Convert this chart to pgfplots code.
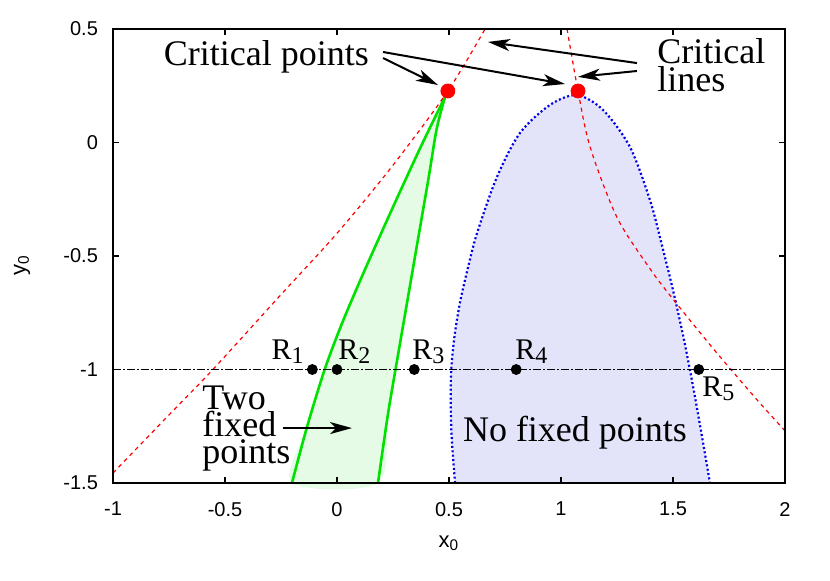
\documentclass[border=0pt]{standalone}
\usepackage{fontspec}
\setmainfont{Liberation Serif}
\setsansfont{Liberation Sans}
\usepackage{pgfplots}
\pgfplotsset{compat=1.18}
\usetikzlibrary{arrows.meta}
\definecolor{fillgreen}{RGB}{229,251,229}
\definecolor{fillblue}{RGB}{227,227,250}
\definecolor{linegreen}{RGB}{0,225,0}
\definecolor{lineblue}{RGB}{0,0,230}
\newcommand{\annfont}{\fontsize{18}{14}\selectfont}
\newcommand{\Rlab}[1]{\fontsize{15}{15}\selectfont R\raisebox{-2pt}{\fontsize{12}{12}\selectfont #1}}

\begin{document}
\begin{tikzpicture}
\begin{axis}[
  scale only axis, width=336pt, height=227pt,
  xmin=-1, xmax=2, ymin=-1.5, ymax=0.5,
  xtick={-1,-0.5,0,0.5,1,1.5,2},
  ytick={-1.5,-1,-0.5,0,0.5},
  tick align=inside, major tick length=3pt,
  axis line style={line width=0.6pt},
  tick style={line width=0.6pt,black},
  /pgf/number format/assume math mode=true,
  ticklabel style={font=\sffamily\fontsize{10}{12}\selectfont},
  xticklabel style={yshift=-6pt},
  yticklabel style={xshift=-4pt},
  axis on top,
  clip=false,
]
\coordinate (sw) at (rel axis cs:0,0);

% region with two fixed points
\addplot[draw=none, fill=fillgreen, smooth] coordinates {
  (0.482,0.2) (0.383,0) (0.289,-0.2) (0.197,-0.4) (0.107,-0.6)
  (0.021,-0.8) (-0.055,-1.0) (-0.133,-1.25) (-0.201,-1.5)
  (0.183,-1.5) (0.227,-1.2) (0.27,-0.95) (0.305,-0.75) (0.34,-0.55)
  (0.375,-0.35) (0.41,-0.15) (0.445,0.06)} -- cycle;

% region with no fixed points
\addplot[draw=none, fill=fillblue, smooth] coordinates {
  (0.527,-1.5) (0.512,-1.3) (0.508,-1.15) (0.51,-1.0) (0.525,-0.85)
  (0.55,-0.7) (0.585,-0.55) (0.625,-0.4) (0.714,-0.152) (0.817,0.042)
  (0.95,0.165) (1.071,0.209) (1.188,0.143) (1.308,-0.02) (1.397,-0.253)
  (1.45,-0.45) (1.5,-0.65) (1.545,-0.85) (1.585,-1.05) (1.625,-1.27)
  (1.665,-1.5)} -- cycle;

% green boundaries
\addplot[linegreen, line width=1.3pt, smooth] coordinates {
  (0.482,0.2) (0.383,0) (0.289,-0.2) (0.197,-0.4) (0.107,-0.6)
  (0.021,-0.8) (-0.055,-1.0) (-0.133,-1.25) (-0.201,-1.5)};
\addplot[linegreen, line width=1.3pt, smooth] coordinates {
  (0.482,0.2) (0.445,0.06) (0.41,-0.15) (0.375,-0.35) (0.34,-0.55)
  (0.305,-0.75) (0.27,-0.95) (0.227,-1.2) (0.183,-1.5)};

% blue boundary
\addplot[lineblue, line width=1.1pt, dash pattern=on 1pt off 1.2pt, smooth] coordinates {
  (0.527,-1.5) (0.512,-1.3) (0.508,-1.15) (0.51,-1.0) (0.525,-0.85)
  (0.55,-0.7) (0.585,-0.55) (0.625,-0.4) (0.714,-0.152) (0.817,0.042)
  (0.95,0.165) (1.071,0.209) (1.188,0.143) (1.308,-0.02) (1.397,-0.253)
  (1.45,-0.45) (1.5,-0.65) (1.545,-0.85) (1.585,-1.05) (1.625,-1.27)
  (1.665,-1.5)};

% critical lines
\addplot[red, line width=0.6pt, dash pattern=on 2pt off 2pt, smooth] coordinates {
  (-1,-1.456) (-0.75,-1.2) (-0.554,-1.0) (-0.25,-0.67) (0,-0.40)
  (0.25,-0.10) (0.495,0.227) (0.661,0.5)};
\addplot[red, line width=0.6pt, dash pattern=on 2pt off 2pt, smooth] coordinates {
  (1.027,0.5) (1.076,0.227) (1.13,-0.02) (1.25,-0.33) (1.4,-0.56)
  (1.5,-0.69) (1.656,-0.88) (1.754,-0.995) (1.888,-1.148) (2,-1.27)};

% y0 = -1 line
\addplot[black, line width=0.6pt, dash pattern=on 4pt off 1pt on 1pt off 1pt] coordinates {(-1,-1) (2,-1)};

% points R1..R5 and critical points
\addplot[only marks, mark=*, mark size=2.5pt, black] coordinates {
  (-0.11,-1) (0,-1) (0.345,-1) (0.8,-1) (1.615,-1)};
\addplot[only marks, mark=*, mark size=3.5pt, red, mark options={draw=red,fill=red}] coordinates {
  (0.495,0.227) (1.076,0.227)};

% arrows
\draw[-{Stealth[length=11pt,width=6pt,inset=3pt]}, line width=1pt] (axis cs:0.2054,0.3722) -- (axis cs:0.4509,0.2533);
\draw[-{Stealth[length=11pt,width=6pt,inset=3pt]}, line width=1pt] (axis cs:0.2054,0.3987) -- (axis cs:1.0179,0.2577);
\draw[-{Stealth[length=11pt,width=6pt,inset=3pt]}, line width=1pt] (axis cs:1.339,0.350) -- (axis cs:0.674,0.443);
\draw[-{Stealth[length=11pt,width=6pt,inset=3pt]}, line width=1pt] (axis cs:1.339,0.315) -- (axis cs:1.076,0.289);
\draw[-{Stealth[length=11pt,width=6pt,inset=3pt]}, line width=1pt] (axis cs:-0.241,-1.258) -- (axis cs:0.067,-1.258);

% texts
\node[anchor=base, inner sep=0pt, font=\annfont] at (axis cs:-0.315,0.341) {Critical points};
\node[anchor=base west, inner sep=0pt, font=\annfont] at (axis cs:1.4286,0.346) {Critical};
\node[anchor=base west, inner sep=0pt, font=\annfont] at (axis cs:1.4286,0.2225) {lines};
\node[anchor=base west, inner sep=0pt, font=\annfont] at (axis cs:-0.603,-1.174) {Two};
\node[anchor=base west, inner sep=0pt, font=\annfont] at (axis cs:-0.603,-1.297) {fixed};
\node[anchor=base west, inner sep=0pt, font=\annfont] at (axis cs:-0.603,-1.412) {points};
\node[anchor=base, inner sep=0pt, font=\annfont] at (axis cs:1.0625,-1.319) {No fixed points};
\node[anchor=base east, inner sep=0pt] at (axis cs:-0.147,-0.958) {\Rlab{1}};
\node[anchor=base west, inner sep=0pt] at (axis cs:0.0045,-0.958) {\Rlab{2}};
\node[anchor=base west, inner sep=0pt] at (axis cs:0.335,-0.958) {\Rlab{3}};
\node[anchor=base west, inner sep=0pt] at (axis cs:0.795,-0.958) {\Rlab{4}};
\node[anchor=base west, inner sep=0pt] at (axis cs:1.629,-1.121) {\Rlab{5}};

% axis labels
\node[font=\sffamily\fontsize{11}{13}\selectfont] at ([yshift=-30pt]rel axis cs:0.5,0) {x\textsubscript{0}};
\node[rotate=90, font=\sffamily\fontsize{11}{13}\selectfont] at ([xshift=-45.5pt]rel axis cs:0,0.48) {y\textsubscript{0}};
\end{axis}
\pgfresetboundingbox
\path ([shift={(-56.5pt,-48.5pt)}]sw) rectangle ([shift={(358.5pt,241.5pt)}]sw);
\end{tikzpicture}
\end{document}
